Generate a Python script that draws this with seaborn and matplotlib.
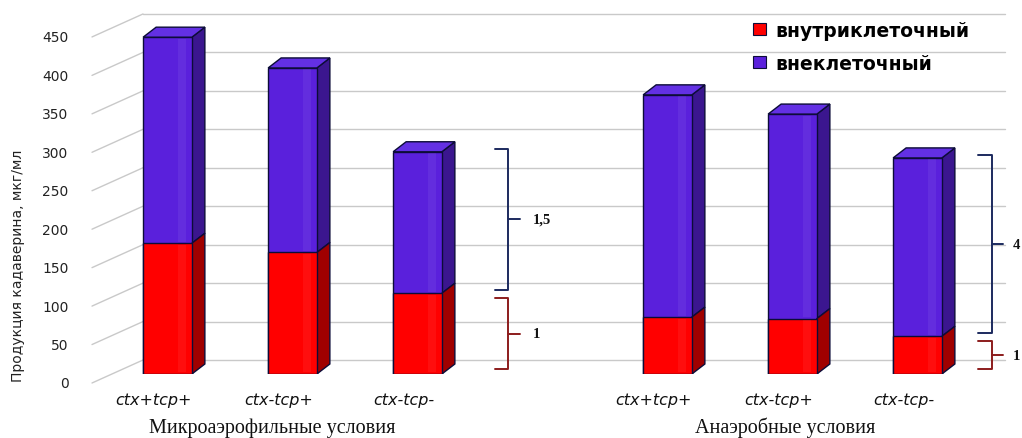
import numpy as np
import pandas as pd
import matplotlib
matplotlib.use("Agg")
import matplotlib.pyplot as plt
import matplotlib.transforms as mtransforms
from matplotlib.patches import Polygon, Patch
import seaborn as sns

# ---- data -------------------------------------------------------------
strains = ["ctx+tcp+", "ctx-tcp+", "ctx-tcp-"]
conditions = ["Микроаэрофильные условия", "Анаэробные условия"]
intracellular = [170, 158, 105, 74, 72, 49]
extracellular = [268, 240, 184, 289, 266, 232]
bar_slots = [0, 1, 2, 4, 5, 6]
y_ticks = [0, 50, 100, 150, 200, 250, 300, 350, 400, 450]
series_labels = ["внутриклеточный", "внеклеточный"]
ratio_labels = [("1,5", "1"), ("4", "1")]
y_label = "Продукция кадаверина, мкг/мл"

totals = [a + b for a, b in zip(intracellular, extracellular)]
df = pd.DataFrame({"slot": bar_slots, "intra": intracellular, "total": totals})

# ---- style ------------------------------------------------------------
RED, RED_SIDE = "#ff0000", "#a00000"
PURPLE, PURPLE_SIDE, PURPLE_TOP = "#5a20dc", "#3b168f", "#6330e4"
EDGE = "#0c0c38"
NAVY, DARKRED = "#1c2a5e", "#8c1c1c"
GRID = "#c9c9c9"

sns.set_theme(style="white")
plt.rcParams["font.family"] = ["DejaVu Sans"]

W_PX, H_PX = 1022, 439
fig = plt.figure(figsize=(W_PX / 100, H_PX / 100), dpi=100)

# axes geometry (pixels): left 92, right 1005, y=0 at 375, top at 5
px_per_x = 125.0
px_per_y = 0.769
left_px, right_px, zero_px, top_px = 92, 1005, 375, 5
ax = fig.add_axes([left_px / W_PX, 1 - zero_px / H_PX,
                   (right_px - left_px) / W_PX, (zero_px - top_px) / H_PX])
x0_data = (left_px - 167.5) / px_per_x
ax.set_xlim(x0_data, x0_data + (right_px - left_px) / px_per_x)
ax.set_ylim(0, (zero_px - top_px) / px_per_y)

BAR_W = 0.39
sns.barplot(data=df, x="slot", y="total", native_scale=True, width=BAR_W,
            color=PURPLE, saturation=1, edgecolor=EDGE, linewidth=1.0,
            ax=ax, zorder=4)
sns.barplot(data=df, x="slot", y="intra", native_scale=True, width=BAR_W,
            color=RED, saturation=1, edgecolor=EDGE, linewidth=1.0,
            ax=ax, zorder=5)

# depth of the pseudo-3D boxes, in data units
dx = 13 / px_per_x
dy = 10 / px_per_y

bars = list(ax.patches)
n = len(bar_slots)
for i, rect in enumerate(bars):
    xl = rect.get_x()
    xr = xl + rect.get_width()
    y0 = rect.get_y()
    y1 = y0 + rect.get_height()
    is_red = i >= n
    side_col = RED_SIDE if is_red else PURPLE_SIDE
    if not is_red:
        y0 = bars[i + n].get_height()
    side = Polygon([(xr, y0), (xr + dx, y0 + dy), (xr + dx, y1 + dy), (xr, y1)],
                   closed=True, facecolor=side_col, edgecolor=EDGE,
                   linewidth=1.0, zorder=3.5 if not is_red else 4.5)
    ax.add_patch(side)
    # soft highlight band near the right edge of the front face
    ax.add_patch(Polygon([(xr - 0.11, y0 + 2), (xr - 0.05, y0 + 2),
                          (xr - 0.05, y1 - 2), (xr - 0.11, y1 - 2)],
                         closed=True, facecolor="white", alpha=0.06,
                         linewidth=0, zorder=6))
    if not is_red:
        top = Polygon([(xl, y1), (xl + dx, y1 + dy), (xr + dx, y1 + dy), (xr, y1)],
                      closed=True, facecolor=PURPLE_TOP, edgecolor=EDGE,
                      linewidth=1.0, zorder=4)
        ax.add_patch(top)

# back wall grid with slanted connectors to the tick labels
wall_shift = 18.2
wall_x0 = (143 - 167.5) / px_per_x
label_shift = -9 / px_per_y
for v in y_ticks:
    ax.plot([wall_x0, ax.get_xlim()[1]], [v + wall_shift] * 2, color=GRID,
            lw=1.0, zorder=1, clip_on=False)
    ax.plot([ax.get_xlim()[0], wall_x0], [v + label_shift, v + wall_shift],
            color=GRID, lw=1.0, zorder=1, clip_on=False)

ax.set_yticks(y_ticks)
ax.set_yticklabels([str(v) for v in y_ticks], fontsize=10, color="#222222")
ax.tick_params(axis="y", length=0, pad=17)
ylab_off = mtransforms.ScaledTranslation(0, -8 / 100, fig.dpi_scale_trans)
for t in ax.get_yticklabels():
    t.set_transform(t.get_transform() + ylab_off)

ax.set_xticks(bar_slots)
ax.set_xticklabels(strains * 2, fontsize=11.5, style="italic", color="#111111")
ax.tick_params(axis="x", length=0, pad=13)
xlab_off = mtransforms.ScaledTranslation(-14 / 100, 0, fig.dpi_scale_trans)
for t in ax.get_xticklabels():
    t.set_transform(t.get_transform() + xlab_off)
ax.set_xlabel("")
ax.set_ylabel("")

for s in ax.spines.values():
    s.set_visible(False)
ax.grid(False)
ax.patch.set_alpha(0)

# group captions
for cx, text in zip([0.836, 4.94], conditions):
    ax.annotate(text, xy=(cx, 0), xycoords=("data", "axes fraction"),
                xytext=(0, -53), textcoords="offset pixels",
                ha="center", va="center", fontsize=14.5,
                family=["Liberation Serif"], color="#111111",
                annotation_clip=False)

# y axis title
fig.text(18 / W_PX, 1 - 266 / H_PX, y_label, rotation=90, ha="center",
         va="center", fontsize=10, color="#222222")

# ratio braces next to the last bar of each group
def brace(xa, xb, xc, ylo, yhi, color, label, lx):
    ym = (ylo + yhi) / 2
    ax.plot([xa, xb, xb, xa], [yhi, yhi, ylo, ylo], color=color, lw=1.4,
            clip_on=False, zorder=7, solid_joinstyle="round")
    ax.plot([xb, xc], [ym, ym], color=color, lw=1.4, clip_on=False, zorder=7)
    ax.text(lx, ym, label, fontsize=10.5, fontweight="bold",
            family=["Liberation Serif"], ha="left", va="center",
            color="#111111", clip_on=False)

px = lambda p: (p - 167.5) / px_per_x
for gi, (xa, xb, xc, lx) in enumerate([(px(495), px(508), px(520), px(533)),
                                      (px(978), px(992), px(1003), px(1013))]):
    k = 3 * gi + 2
    hi_lab, lo_lab = ratio_labels[gi]
    brace(xa, xb, xc, intracellular[k] + 4, totals[k] + 4, NAVY, hi_lab, lx)
    brace(xa, xb, xc, 6, intracellular[k] - 6, DARKRED, lo_lab, lx)

# legend
handles = [Patch(facecolor=RED, edgecolor=EDGE, linewidth=0.8),
           Patch(facecolor=PURPLE, edgecolor=EDGE, linewidth=0.8)]
leg = fig.legend(handles, series_labels, loc="upper left",
                 bbox_to_anchor=(736 / W_PX, 1 - 5 / H_PX), frameon=False,
                 handlelength=0.7, handleheight=0.6, handletextpad=0.5,
                 labelspacing=0.75,
                 prop={"size": 13.5, "weight": "bold"})
for t in leg.get_texts():
    t.set_color("black")

fig.savefig("out.png", dpi=100)
